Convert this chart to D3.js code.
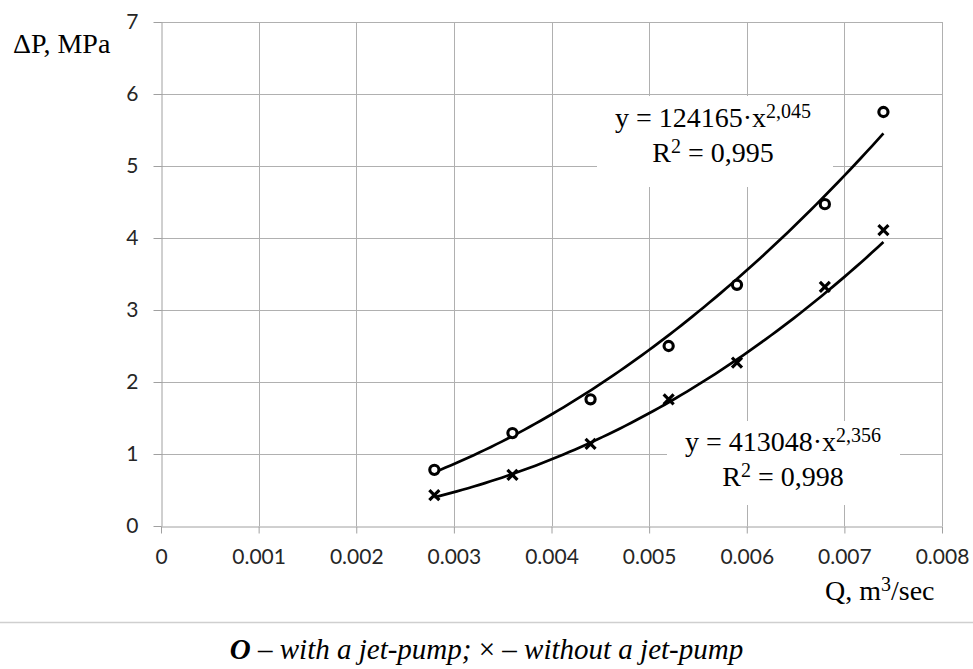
<!DOCTYPE html>
<html>
<head>
<meta charset="utf-8">
<script src="https://cdn.jsdelivr.net/npm/d3@7"></script>
<style>
  body { margin: 0; background: #fff; }
  .tick text { font-family: Lato, "Open Sans", sans-serif; font-size: 21px; fill: #262626; }
  .serif { font-family: "Liberation Serif", "DejaVu Serif", serif; fill: #000; }
</style>
</head>
<body>
<script>
// data
var qWith = [0.0028, 0.0036, 0.0044, 0.0052, 0.0059, 0.0068, 0.0074];
var dpWith = [0.78, 1.29, 1.76, 2.50, 3.35, 4.47, 5.75];
var qWithout = [0.0028, 0.0036, 0.0044, 0.0052, 0.0059, 0.0068, 0.0074];
var dpWithout = [0.43, 0.71, 1.14, 1.76, 2.27, 3.32, 4.11];

// power trendlines as printed on the chart: y = a*x^b
var fitWith = {a: 124165, b: 2.045, r2: "0,995", bTxt: "2,045"};
var fitWithout = {a: 413048, b: 2.356, r2: "0,998", bTxt: "2,356"};

var xTicks = [0, 0.001, 0.002, 0.003, 0.004, 0.005, 0.006, 0.007, 0.008];
var xTickLabels = ["0", "0.001", "0.002", "0.003", "0.004", "0.005", "0.006", "0.007", "0.008"];
var yTicks = [0, 1, 2, 3, 4, 5, 6, 7];
var yTickLabels = ["0", "1", "2", "3", "4", "5", "6", "7"];

var W = 973, H = 669;
var svg = d3.select("body").append("svg")
    .attr("width", W)
    .attr("height", H);

var x = d3.scaleLinear().domain([0, 0.008]).range([161, 942]);
var y = d3.scaleLinear().domain([0, 7]).range([526, 22]);

// grid
var grid = svg.append("g").attr("stroke", "#b0b0b0").attr("stroke-width", 1);
grid.selectAll(".vg").data(xTicks.slice(1)).enter().append("line")
    .attr("x1", function(d){ return Math.round(x(d)) + 0.5; })
    .attr("x2", function(d){ return Math.round(x(d)) + 0.5; })
    .attr("y1", y(7)).attr("y2", y(0));
grid.selectAll(".hg").data(yTicks.slice(1)).enter().append("line")
    .attr("y1", function(d){ return Math.round(y(d)) + 0.5; })
    .attr("y2", function(d){ return Math.round(y(d)) + 0.5; })
    .attr("x1", x(0)).attr("x2", x(0.008));

// axes
var xAxis = svg.append("g")
    .attr("transform", "translate(0," + (Math.round(y(0)) + 0.5) + ")")
    .call(d3.axisBottom(x).tickValues(xTicks)
        .tickFormat(function(d, i){ return xTickLabels[i]; })
        .tickSize(7).tickSizeOuter(0).tickPadding(16));
var yAxis = svg.append("g")
    .attr("transform", "translate(" + (Math.round(x(0)) + 0.5) + ",0)")
    .call(d3.axisLeft(y).tickValues(yTicks)
        .tickFormat(function(d, i){ return yTickLabels[i]; })
        .tickSize(8).tickSizeOuter(0).tickPadding(15));
svg.selectAll(".domain").attr("stroke", "#a0a0a0");
svg.selectAll(".tick line").attr("stroke", "#a0a0a0");

// equation boxes (white, cover the grid)
function eqBox(fit, bx, by, bw, bh, cx, base1, base2) {
    svg.append("rect").attr("x", bx).attr("y", by).attr("width", bw).attr("height", bh).attr("fill", "#fff");
    var t1 = svg.append("text").attr("class", "serif").attr("x", cx).attr("y", base1)
        .attr("text-anchor", "middle").style("font-size", "28px");
    t1.append("tspan").text("y = " + fit.a + "\u00b7x");
    t1.append("tspan").attr("dy", -9).style("font-size", "20px").text(fit.bTxt);
    var t2 = svg.append("text").attr("class", "serif").attr("x", cx).attr("y", base2)
        .attr("text-anchor", "middle").style("font-size", "28px");
    t2.append("tspan").text("R");
    t2.append("tspan").attr("dy", -9).style("font-size", "20px").text("2");
    t2.append("tspan").attr("dy", 9).text(" = " + fit.r2);
}

// trendlines
var line = d3.line().x(function(d){ return x(d[0]); }).y(function(d){ return y(d[1]); });
function trend(fit, q) {
    var lo = d3.min(q), hi = d3.max(q), pts = [];
    for (var i = 0; i <= 80; i++) {
        var qq = lo + (hi - lo) * i / 80;
        pts.push([qq, fit.a * Math.pow(qq, fit.b)]);
    }
    svg.append("path").datum(pts).attr("d", line)
        .attr("fill", "none").attr("stroke", "#000").attr("stroke-width", 2.7);
}

eqBox(fitWith, 597, 96, 236, 91, 713, 127, 162);
eqBox(fitWithout, 667, 421, 233, 84, 783, 451, 486);
trend(fitWith, qWith);
trend(fitWithout, qWithout);

// markers
svg.selectAll(".mo").data(qWith).enter().append("circle")
    .attr("cx", function(d){ return x(d); })
    .attr("cy", function(d, i){ return y(dpWith[i]); })
    .attr("r", 4.6).attr("fill", "#fff").attr("stroke", "#000").attr("stroke-width", 3.1);
svg.selectAll(".mx").data(qWithout).enter().append("path")
    .attr("transform", function(d, i){ return "translate(" + x(d) + "," + y(dpWithout[i]) + ")"; })
    .attr("d", "M-5,-5L5,5M-5,5L5,-5")
    .attr("stroke", "#000").attr("stroke-width", 3.2);

// axis titles
svg.append("text").attr("class", "serif").attr("x", 13).attr("y", 53).style("font-size", "28px").text("\u0394P, MPa");
var xt = svg.append("text").attr("class", "serif").attr("x", 825).attr("y", 600).style("font-size", "28px");
xt.append("tspan").text("Q, m");
xt.append("tspan").attr("dy", -9).style("font-size", "20px").text("3");
xt.append("tspan").attr("dy", 9).text("/sec");

// separator and caption
svg.append("line").attr("x1", 0).attr("x2", W).attr("y1", 622.5).attr("y2", 622.5)
    .attr("stroke", "#cfcfcf").attr("stroke-width", 1.5);
var cap = svg.append("text").attr("class", "serif").attr("x", W / 2).attr("y", 659)
    .attr("text-anchor", "middle").style("font-size", "29px").style("font-style", "italic");
cap.append("tspan").style("font-weight", "bold").text("O");
cap.append("tspan").text(" \u2013 with a jet-pump; ");
cap.append("tspan").style("font-style", "normal").text("\u00d7");
cap.append("tspan").text(" \u2013 without a jet-pump");
</script>
</body>
</html>
